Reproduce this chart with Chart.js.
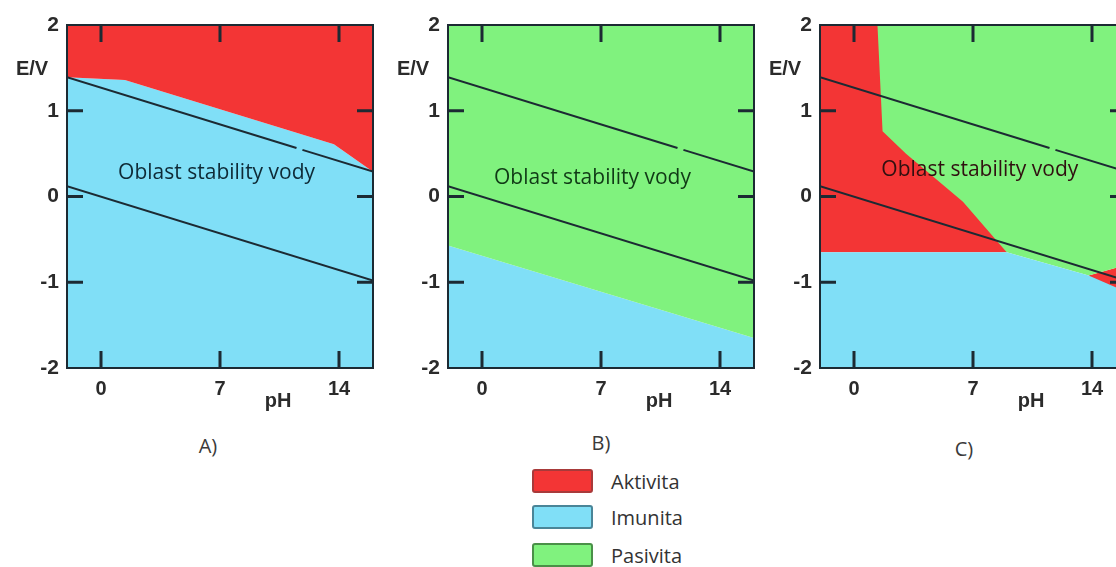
<!DOCTYPE html>
<html>
<head>
<meta charset="utf-8">
<script src="https://cdn.jsdelivr.net/npm/chart.js@4.4.1/dist/chart.umd.min.js"></script>
<style>
html, body { margin: 0; padding: 0; background: #fff; overflow: hidden; width: 1116px; height: 567px; }
.panel { position: absolute; top: 0; }
.cap { position: absolute; font: 20px "Open Sans", sans-serif; color: #3a3a3a; transform: translate(-50%, -50%); }
.row { position: absolute; left: 532px; height: 24px; display: flex; align-items: center; font: 20px "Open Sans", sans-serif; color: #333; }
.sw { width: 57px; height: 20px; border: 2px solid; border-radius: 3px; margin-right: 18px; }
</style>
</head>
<body>
<canvas id="chartA" class="panel" style="left:0px" width="390" height="420"></canvas>
<canvas id="chartB" class="panel" style="left:381px" width="390" height="420"></canvas>
<canvas id="chartC" class="panel" style="left:753px" width="390" height="420"></canvas>

<div class="cap" style="left:208px;top:445px">A)</div>
<div class="cap" style="left:601px;top:442px">B)</div>
<div class="cap" style="left:964px;top:448px">C)</div>

<div class="row" style="top:469px"><div class="sw" style="background:#f33535;border-color:#a83a3a"></div>Aktivita</div>
<div class="row" style="top:505px"><div class="sw" style="background:#80dff7;border-color:#4a8598"></div>Imunita</div>
<div class="row" style="top:543px"><div class="sw" style="background:#80f27e;border-color:#4a9048"></div>Pasivita</div>

<script>
// axis ticks
var phTicks = [0, 7, 14];
var eTicks = [-2, -1, 0, 1, 2];

// water stability lines (same in all three diagrams, small gap near pH 12)
var o2LinePH = [-2, 11.5];
var o2LineE = [1.39, 0.565];
var o2Line2PH = [11.85, 16];
var o2Line2E = [0.544, 0.29];
var h2LinePH = [-2, 16];
var h2LineE = [0.12, -0.98];

// A) aktivita / imunita boundary
var aActPH = [-2, 1.4, 13.7, 16];
var aActE = [1.39, 1.36, 0.61, 0.29];

// B) pasivita / imunita boundary
var bPasPH = [-2, 16];
var bPasE = [-0.57, -1.65];

// C) boundaries
var cActPH = [-2, 9.0];
var cActE = [-0.65, -0.65];
var cPasPH = [-2, 1.38, 1.68, 3.06, 6.41, 8.98, 13.8, 16];
var cPasE = [2, 2, 0.76, 0.5, -0.06, -0.65, -0.92, -0.8];
var cImuPH = [-2, 8.98, 13.8, 16];
var cImuE = [-0.65, -0.65, -0.92, -1.11];
var cAct2PH = [13.8, 16];
var cAct2E = [-0.92, -0.8];

var RED = '#f33535';
var BLUE = '#80dff7';
var GREEN = '#80f27e';
var INK = '#1c2a33';

function pts(xs, ys) {
    var out = [];
    for (var i in xs) {
        out.push({x: xs[i], y: ys[i]});
    }
    return out;
}

function area(xs, ys, color, fill, order) {
    return {
        data: pts(xs, ys),
        showLine: true,
        fill: fill,
        backgroundColor: color,
        borderColor: 'rgba(0,0,0,0)',
        borderWidth: 0,
        pointRadius: 0,
        order: order
    };
}

function line(xs, ys) {
    return {
        data: pts(xs, ys),
        showLine: true,
        fill: false,
        borderColor: INK,
        borderWidth: 2,
        pointRadius: 0,
        order: 0
    };
}

var waterLines = function () {
    return [line(o2LinePH, o2LineE), line(o2Line2PH, o2Line2E), line(h2LinePH, h2LineE)];
};

// frame, inward ticks and the free texts
var decor = {
    id: 'decor',
    afterDatasetsDraw: function (chart, args, opts) {
        var ctx = chart.ctx;
        var a = chart.chartArea;
        var xs = chart.scales.x;
        var ys = chart.scales.y;
        ctx.save();
        ctx.strokeStyle = INK;
        ctx.lineWidth = 3;
        ctx.beginPath();
        phTicks.forEach(function (v) {
            var px = xs.getPixelForValue(v);
            ctx.moveTo(px, a.top);
            ctx.lineTo(px, a.top + 17);
            ctx.moveTo(px, a.bottom);
            ctx.lineTo(px, a.bottom - 17);
        });
        eTicks.forEach(function (v) {
            if (v === 2 || v === -2) return;
            var py = ys.getPixelForValue(v);
            ctx.moveTo(a.left, py);
            ctx.lineTo(a.left + 16, py);
            ctx.moveTo(a.right, py);
            ctx.lineTo(a.right - 16, py);
        });
        ctx.stroke();
        ctx.lineWidth = 2;
        ctx.strokeRect(a.left, a.top, a.right - a.left, a.bottom - a.top);

        ctx.fillStyle = '#2b2b2b';
        ctx.font = 'bold 20px "Liberation Sans", Arial, sans-serif';
        ctx.textAlign = 'center';
        ctx.textBaseline = 'middle';
        ctx.fillText('E/V', a.left - 35, 69);
        ctx.fillText('pH', a.left + 211, 401);

        ctx.fillStyle = opts.textColor;
        ctx.font = '21px "Open Sans", sans-serif';
        ctx.fillText('Oblast stability vody', xs.getPixelForValue(opts.textPH), ys.getPixelForValue(opts.textE));
        ctx.restore();
    }
};

function makeChart(id, datasets, textPH, textE, textColor) {
    return new Chart(document.getElementById(id), {
        type: 'scatter',
        data: {datasets: datasets},
        plugins: [decor],
        options: {
            responsive: false,
            animation: false,
            layout: {padding: {top: 25, right: 17, left: 0, bottom: 0}},
            plugins: {
                legend: {display: false},
                tooltip: {enabled: false},
                decor: {textPH: textPH, textE: textE, textColor: textColor}
            },
            scales: {
                x: {
                    type: 'linear',
                    min: -2,
                    max: 16,
                    afterBuildTicks: function (scale) {
                        scale.ticks = phTicks.map(function (v) { return {value: v}; });
                    },
                    afterFit: function (scale) { scale.height = 52; },
                    grid: {display: false, drawTicks: false},
                    border: {display: false},
                    ticks: {
                        padding: 9,
                        color: '#2b2b2b',
                        font: {family: '"Liberation Sans", Arial, sans-serif', size: 20, weight: 'bold'}
                    }
                },
                y: {
                    min: -2,
                    max: 2,
                    afterBuildTicks: function (scale) {
                        scale.ticks = eTicks.map(function (v) { return {value: v}; });
                    },
                    afterFit: function (scale) { scale.width = 67; },
                    grid: {display: false, drawTicks: false},
                    border: {display: false},
                    ticks: {
                        padding: 8,
                        color: '#2b2b2b',
                        font: {family: '"Liberation Sans", Arial, sans-serif', size: 21, weight: 'bold'}
                    }
                }
            }
        }
    });
}

makeChart('chartA',
    waterLines().concat([
        area(aActPH, aActE, RED, 'end', 5),
        area(aActPH, aActE, BLUE, 'start', 5)
    ]), 6.8, 0.27, '#0e2a36');

makeChart('chartB',
    waterLines().concat([
        area(bPasPH, bPasE, GREEN, 'end', 5),
        area(bPasPH, bPasE, BLUE, 'start', 5)
    ]), 6.5, 0.22, '#103a16');

makeChart('chartC',
    waterLines().concat([
        area(cActPH, cActE, RED, 'end', 9),
        area(cAct2PH, cAct2E, RED, 'start', 8),
        area(cPasPH, cPasE, GREEN, 'end', 6),
        area(cImuPH, cImuE, BLUE, 'start', 5)
    ]), 7.4, 0.31, '#301010');
</script>
</body>
</html>
